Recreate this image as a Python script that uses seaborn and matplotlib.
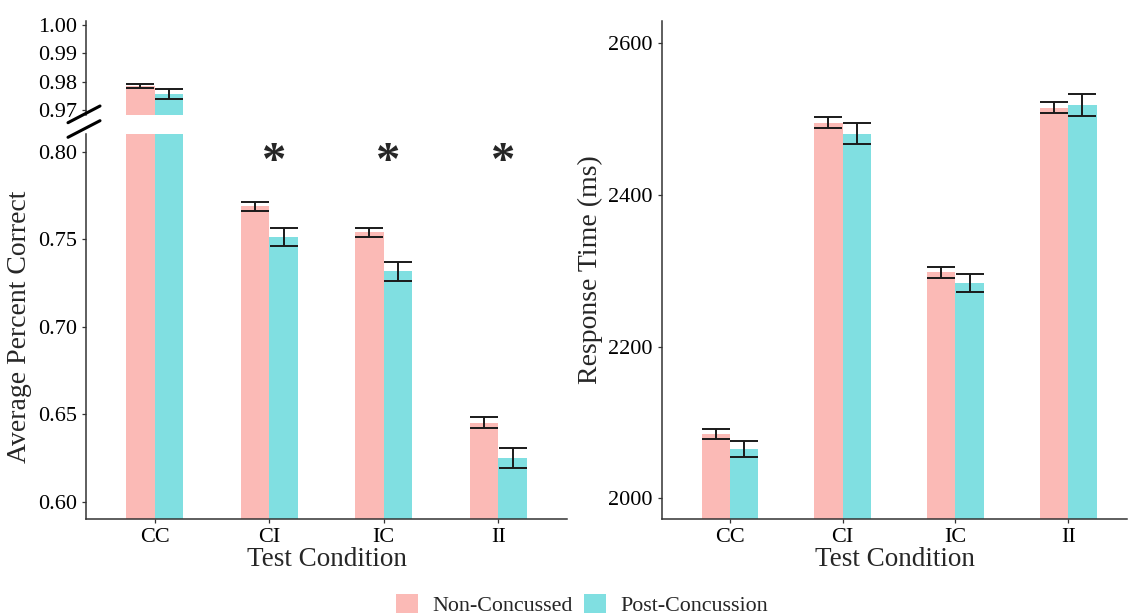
import numpy as np
import pandas as pd
import matplotlib
matplotlib.use("Agg")
import matplotlib.pyplot as plt
import seaborn as sns
from matplotlib.patches import Patch
from matplotlib.lines import Line2D

# ---------------- data ----------------
conditions = ["CC", "CI", "IC", "II"]
groups = ["Non-Concussed", "Post-Concussion"]
acc_non = [0.9786, 0.7688, 0.7540, 0.6452]
acc_non_se = [0.0007, 0.0026, 0.0026, 0.0030]
acc_post = [0.9756, 0.7513, 0.7317, 0.6250]
acc_post_se = [0.0017, 0.0052, 0.0055, 0.0058]
rt_non = [2084.5, 2495.5, 2298.0, 2515.0]
rt_non_se = [6.5, 7.5, 7.0, 7.0]
rt_post = [2065.0, 2481.0, 2284.0, 2518.5]
rt_post_se = [10.0, 14.0, 12.0, 14.5]
significant = ["CI", "IC", "II"]
colors = ["#FBBAB6", "#80DFE1"]

df = pd.DataFrame({
    "cond": conditions * 2,
    "group": [groups[0]] * 4 + [groups[1]] * 4,
    "acc": acc_non + acc_post,
    "acc_se": acc_non_se + acc_post_se,
    "rt": rt_non + rt_post,
    "rt_se": rt_non_se + rt_post_se,
})

# ---------------- style ----------------
sns.set_theme(style="ticks")
plt.rcParams["font.family"] = ["Liberation Serif", "DejaVu Serif"]
plt.rcParams["axes.edgecolor"] = "#333333"
plt.rcParams["axes.linewidth"] = 1.1
plt.rcParams["xtick.color"] = "#333333"
plt.rcParams["ytick.color"] = "#333333"
plt.rcParams["xtick.labelcolor"] = "black"
plt.rcParams["ytick.labelcolor"] = "black"
plt.rcParams["xtick.major.size"] = 3
plt.rcParams["ytick.major.size"] = 3
plt.rcParams["xtick.major.width"] = 0.9
plt.rcParams["ytick.major.width"] = 0.9

W, H = 1128, 615
fig = plt.figure(figsize=(W / 100, H / 100), dpi=100)

def px(x0, y0, x1, y1):
    return [x0 / W, 1 - y1 / H, (x1 - x0) / W, (y1 - y0) / H]

ax_top = fig.add_axes(px(86, 20.7, 567, 115))
ax_bot = fig.add_axes(px(86, 134, 567, 519))
ax_rt = fig.add_axes(px(662, 20.7, 1127, 519))

def draw(ax, ycol, secol):
    sns.barplot(data=df, x="cond", y=ycol, hue="group", order=conditions,
                hue_order=groups, palette=colors, width=0.5, errorbar=None,
                legend=False, ax=ax, saturation=1, linewidth=0,
                edgecolor="none")
    for gi, g in enumerate(groups):
        sub = df[df["group"] == g].set_index("cond").loc[conditions]
        xs = [p.get_x() + p.get_width() / 2 for p in ax.containers[gi]]
        ax.errorbar(xs, sub[ycol].values, yerr=sub[secol].values, fmt="none",
                    ecolor="#1a1a1a", elinewidth=1.4, capsize=10, capthick=1.4,
                    zorder=5)
    ax.set_xlim(-0.6, 3.6)

draw(ax_top, "acc", "acc_se")
draw(ax_bot, "acc", "acc_se")
draw(ax_rt, "rt", "rt_se")

TICK_FS = 16

# top (broken) part
ax_top.set_ylim(0.9682, 1.0015)
ax_top.set_yticks([0.97, 0.98, 0.99, 1.00])
ax_top.set_yticklabels(["0.97", "0.98", "0.99", "1.00"], fontsize=TICK_FS)
ax_top.set_xticks([])
ax_top.set_xlabel("")
ax_top.set_ylabel("")
for s in ["top", "right", "bottom"]:
    ax_top.spines[s].set_visible(False)

# bottom part
ax_bot.set_ylim(0.5901, 0.8101)
yt = [0.60, 0.65, 0.70, 0.75, 0.80]
ax_bot.set_yticks(yt)
ax_bot.set_yticklabels([f"{v:.2f}" for v in yt], fontsize=TICK_FS)
ax_bot.tick_params(axis="x", labelsize=TICK_FS)
ax_bot.set_xlabel("Test Condition", fontsize=19.5, labelpad=0)
ax_bot.set_ylabel("Average Percent Correct", fontsize=20)
for s in ["top", "right"]:
    ax_bot.spines[s].set_visible(False)
for c in significant:
    i = conditions.index(c)
    ax_bot.text(i + 0.04, 0.7865, "*", ha="center", va="baseline",
                fontsize=35, fontweight="bold")

# response time
ax_rt.set_xlim(-0.6, 3.52)
ax_rt.set_ylim(1972.7, 2629.8)
ax_rt.set_yticks([2000, 2200, 2400, 2600])
ax_rt.tick_params(axis="y", labelsize=TICK_FS)
ax_rt.tick_params(axis="x", labelsize=TICK_FS)
ax_rt.set_xlabel("Test Condition", fontsize=19.5, labelpad=0)
ax_rt.set_ylabel("Response Time (ms)", fontsize=20)
for s in ["top", "right"]:
    ax_rt.spines[s].set_visible(False)

# axis break marks
for (x0, y0, x1, y1) in [(68, 122.7, 100, 106), (68, 137.3, 100, 120.7)]:
    fig.add_artist(Line2D([x0 / W, x1 / W], [1 - y0 / H, 1 - y1 / H],
                          color="black", lw=2.2, transform=fig.transFigure))

# legend
handles = [Patch(facecolor=c, edgecolor="none") for c in colors]
fig.legend(handles, groups, loc="center", bbox_to_anchor=(582 / W, 1 - 605 / H),
           ncol=2, frameon=False, fontsize=15.8, handlelength=1.0,
           handleheight=1.0, handletextpad=0.65, columnspacing=0.55)

fig.savefig("out.png", dpi=100)
